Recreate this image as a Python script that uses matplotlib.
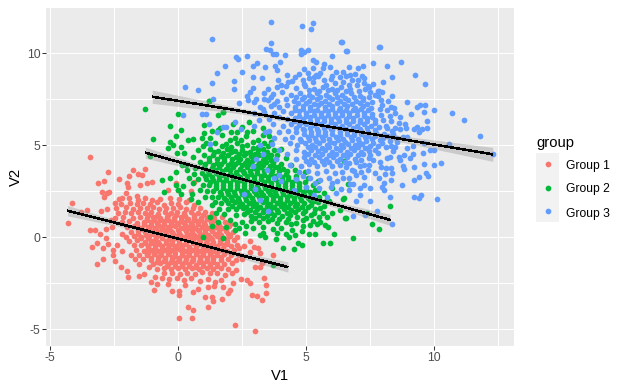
import numpy as np
import matplotlib
matplotlib.use("Agg")
import matplotlib.pyplot as plt

plt.rcParams['font.family'] = ['Liberation Sans', 'DejaVu Sans']
plt.rcParams['axes.unicode_minus'] = False

groups = ["Group 1", "Group 2", "Group 3"]
colors = ["#F8766D", "#00BA38", "#619CFF"]
xticks = [-5, 0, 5, 10]
yticks = [-5, 0, 5, 10]

g1_edge = [-3.47,4.35,-2.73,3.53,-1.79,3.64,-1.29,3.70,-1.91,3.33,-2.30,3.15,-2.89,3.04,-3.12,2.93,-1.56,3.42,-1.43,3.39,
-1.99,2.93,-1.98,2.75,-1.49,2.84,-1.23,2.97,-1.04,3.03,-3.0,2.48,-2.70,2.48,-2.9,2.21,-2.8,2.39,-2.04,2.39,-1.62,2.26,-2.21,2.12,
-4.14,1.85,-3.55,1.50,-2.47,1.85,-2.80,1.52,-3.03,1.45,-3.81,1.38,-4.33,0.76,-3.45,0.40,-3.25,0.40,-3.06,0.16,-2.83,0.43,-2.60,0.58,
-2.83,-0.05,-3.16,-0.33,-3.39,-0.54,-2.93,-0.6,-2.57,-0.69,-2.56,-0.96,-2.93,-1.2,-2.46,-1.27,-3.16,-1.47,-2.26,-1.63,-2.01,-1.81,
-1.95,-2.14,-1.53,-2.10,-1.36,-2.01,-1.52,-1.47,-0.92,-2.14,-1.06,-2.41,-0.82,-2.55,-0.95,-2.86,-0.39,-2.55,-0.23,-2.93,0.04,-2.90,
0.04,-3.13,0.26,-2.59,0.59,-2.99,0.75,-2.81,0.39,-3.80,0.59,-3.97,0.04,-4.40,0.55,-4.40,1.14,-3.80,1.06,-3.26,1.31,-3.26,1.37,-3.48,
1.72,-3.33,1.92,-3.01,2.02,-2.86,2.23,-4.78,3.01,-5.11,2.86,-3.13,3.09,-3.21,3.26,-3.42,3.44,-3.04,3.44,-2.61,3.35,-2.21,2.67,-2.32,
2.80,-2.50,2.43,-2.28,2.13,-2.46,2.99,-1.59,3.19,-1.59,3.71,-0.98,3.26,-1.38,2.78,-0.22,2.57,-0.47,2.96,-0.51,3.13,-0.56,2.80,-0.78,
3.17,-0.83,2.35,-0.6,2.09,-1.96,1.83,-2.05,-2.62,0.95,-2.2,0.2,-2.75,-0.35,-2.4,-0.4,0.6,3.02,-0.1,2.95,0.0,2.6,0.5,2.5,-0.4,2.55]
g1_core = [-2.31,2.09,-1.93,2.14,-1.56,2.05,-1.31,2.12,-1.04,2.03,-0.72,2.1,-0.33,2.14,0.02,2.07,0.41,2.02,
-2.24,1.83,-1.88,1.88,-1.61,1.79,-1.37,1.86,-1.1,1.81,-0.83,1.9,-0.55,1.78,-0.3,1.87,-0.03,1.84,0.29,1.91,0.62,1.77,
-2.42,1.58,-2.06,1.64,-1.79,1.55,-1.5,1.62,-1.24,1.57,-1.0,1.66,-0.74,1.54,-0.48,1.61,-0.21,1.58,0.06,1.65,0.31,1.55,0.57,1.62,0.86,1.57,
-2.34,1.33,-2.08,1.38,-1.86,1.31,-1.58,1.36,-1.3,1.32,-1.06,1.4,-0.79,1.29,-0.54,1.37,-0.28,1.33,-0.04,1.38,0.22,1.3,0.49,1.36,0.76,1.31,1.06,1.37,1.32,1.3,
-2.48,1.08,-2.16,1.12,-1.76,1.06,-1.49,1.13,-1.24,1.05,-0.98,1.11,-0.7,1.03,-0.45,1.1,-0.17,1.07,0.09,1.13,0.36,1.02,0.63,1.09,0.88,1.04,1.15,1.12,1.41,1.03,1.69,1.09,
-2.2,0.83,-1.92,0.87,-1.62,0.79,-1.36,0.86,-1.08,0.82,-0.84,0.78,-0.58,0.88,-0.3,0.83,-0.06,0.77,0.2,0.85,0.48,0.8,0.74,0.88,1.0,0.79,1.27,0.84,1.55,0.78,1.83,0.86,2.02,0.74,
-2.0,0.56,-1.74,0.6,-1.47,0.53,-1.2,0.59,-0.93,0.51,-0.68,0.58,-0.42,0.54,-0.14,0.6,0.12,0.52,0.38,0.57,0.64,0.5,0.92,0.59,1.18,0.53,1.44,0.58,1.7,0.51,1.96,0.6,
-1.86,0.31,-1.57,0.34,-1.3,0.28,-1.02,0.33,-0.76,0.27,-0.52,0.35,-0.24,0.3,0.02,0.26,0.28,0.34,0.54,0.29,0.8,0.32,1.06,0.25,1.33,0.33,1.6,0.27,1.87,0.34,2.15,0.28,
-2.05,0.04,-1.72,0.08,-1.45,0.02,-1.15,0.07,-0.88,0.01,-0.62,0.09,-0.36,0.03,-0.1,0.06,0.17,0.0,0.43,0.08,0.7,0.02,0.96,0.07,1.22,0.01,1.5,0.06,1.76,-0.01,2.03,0.05,2.3,0.0,
-1.93,-0.2,-1.6,-0.16,-1.32,-0.23,-1.05,-0.17,-0.78,-0.25,-0.5,-0.18,-0.24,-0.22,0.03,-0.15,0.3,-0.24,0.56,-0.17,0.83,-0.21,1.1,-0.16,1.36,-0.24,1.62,-0.18,1.9,-0.23,2.17,-0.16,
-1.75,-0.44,-1.47,-0.4,-1.2,-0.48,-0.92,-0.42,-0.64,-0.49,-0.38,-0.41,-0.11,-0.46,0.16,-0.43,0.42,-0.5,0.7,-0.4,0.96,-0.47,1.23,-0.42,1.5,-0.48,1.77,-0.41,2.04,-0.47,2.3,-0.41,
-2.2,-0.72,-1.64,-0.66,-1.33,-0.72,-1.06,-0.67,-0.79,-0.74,-0.52,-0.66,-0.25,-0.71,0.02,-0.65,0.29,-0.73,0.55,-0.68,0.82,-0.74,1.09,-0.67,1.36,-0.72,1.63,-0.66,1.9,-0.73,2.18,-0.69,
-1.85,-0.97,-1.52,-0.93,-1.22,-0.98,-0.94,-0.91,-0.66,-0.97,-0.39,-0.92,-0.12,-0.99,0.15,-0.93,0.42,-0.98,0.69,-0.92,0.96,-0.97,1.22,-0.9,1.5,-0.96,1.77,-0.91,2.06,-0.97,2.35,-0.93,
-1.7,-1.2,-1.38,-1.17,-1.08,-1.23,-0.8,-1.16,-0.53,-1.22,-0.25,-1.18,0.02,-1.24,0.29,-1.17,0.56,-1.22,0.83,-1.16,1.1,-1.23,1.36,-1.18,1.65,-1.21,1.95,-1.17,2.25,-1.24,2.5,-1.15,
-0.98,-1.44,-0.7,-1.41,-0.42,-1.47,-0.15,-1.4,0.13,-1.46,0.4,-1.42,0.67,-1.48,0.95,-1.41,1.22,-1.46,1.5,-1.42,1.8,-1.47,2.1,-1.4,-1.15,-1.62,
-0.85,-1.7,-0.55,-1.66,-0.28,-1.72,0.0,-1.65,0.27,-1.71,0.55,-1.67,0.82,-1.73,1.1,-1.66,1.37,-1.7,1.65,-1.67,1.95,-1.72,2.25,-1.78,
-0.55,-1.95,-0.25,-1.92,0.05,-1.97,0.35,-1.93,0.65,-1.98,0.92,-1.9,1.22,-1.96,1.5,-1.92,-0.62,-2.2,-0.35,-2.28,-0.05,-2.2,0.22,-2.3,0.5,-2.22,0.85,-2.35,1.15,-2.25,1.42,-2.4,1.65,-2.3,1.15,-2.7,1.4,-2.62,1.75,-2.7]
g1_fill = [-1.2,1.2,-0.85,1.18,-0.4,1.22,-0.1,1.24,0.25,1.16,0.6,1.2,0.95,1.22,-1.22,0.94,-0.95,0.96,-0.7,0.92,-0.42,0.97,-0.18,0.95,0.1,0.97,0.35,0.93,0.62,0.96,0.88,0.93,1.13,0.98,1.4,0.92,
-1.6,0.68,-1.33,0.72,-1.05,0.69,-0.8,0.67,-0.55,0.73,-0.27,0.68,0,0.71,0.25,0.67,0.52,0.68,0.78,0.72,1.05,0.66,1.32,0.71,1.58,0.65,-1.43,0.44,-1.16,0.46,-0.88,0.4,-0.6,0.46,-0.33,0.42,-0.02,0.41,0.25,0.45,0.5,0.43,0.78,0.42,1.05,0.41,1.3,0.46,1.58,0.4,1.85,0.47,
-1.58,0.19,-1.28,0.15,-1.0,0.2,-0.72,0.14,-0.47,0.18,-0.22,0.16,0.08,0.13,0.34,0.18,0.6,0.15,0.85,0.19,1.15,0.14,1.42,0.19,1.68,0.13,1.95,0.17,-1.45,-0.06,-1.18,-0.05,-0.92,-0.12,-0.63,-0.06,-0.34,-0.09,-0.08,-0.04,0.28,-0.1,0.54,-0.05,0.82,-0.1,1.06,-0.04,1.33,-0.1,1.62,-0.05,1.89,-0.08,
-1.3,-0.33,-1.05,-0.3,-0.76,-0.36,-0.5,-0.31,-0.24,-0.35,0.02,-0.29,0.28,-0.36,0.56,-0.31,0.82,-0.35,1.08,-0.3,1.36,-0.36,1.64,-0.3,1.9,-0.35,-1.18,-0.6,-0.92,-0.56,-0.65,-0.62,-0.39,-0.55,-0.12,-0.6,0.15,-0.56,0.42,-0.61,0.7,-0.54,0.96,-0.6,1.22,-0.55,1.5,-0.6,1.76,-0.55,
-1.2,-0.84,-0.92,-0.8,-0.66,-0.85,-0.38,-0.8,-0.12,-0.85,0.15,-0.8,0.42,-0.85,0.69,-0.79,0.95,-0.85,1.22,-0.8,1.5,-0.84,1.78,-0.8,-1.08,-1.1,-0.8,-1.05,-0.52,-1.1,-0.25,-1.05,0.02,-1.1,0.29,-1.06,0.56,-1.1,0.83,-1.05,1.1,-1.1,1.37,-1.05,1.65,-1.09,
-0.85,-1.32,-0.55,-1.3,-0.28,-1.34,0.0,-1.3,0.27,-1.33,0.55,-1.3,0.82,-1.35,1.1,-1.3,1.37,-1.34,-0.45,-1.57,-0.12,-1.55,0.13,-1.58,0.42,-1.55,0.7,-1.6,0.97,-1.54,1.25,-1.58,1.52,-1.56]

g2_edge = [-1.29,7.0,1.21,7.40,0,6.68,1.56,6.64,1.76,6.79,-0.31,6.06,0.12,5.86,1.0,6.1,1.30,5.79,-0.98,5.32,-0.34,5.19,-0.08,5.52,0.39,5.28,
0.58,5.37,0.91,5.41,-0.2,5.01,0.09,4.92,-0.39,4.83,-0.04,4.56,0.23,4.61,1.08,5.1,-1.11,4.41,0.58,4.38,0.13,3.92,0.32,3.65,-0.11,3.56,-0.33,3.25,
-0.63,3.14,-0.11,2.87,-0.55,2.49,0.19,2.78,0.58,2.98,-0.03,2.60,0.12,2.35,0.52,2.38,0.51,2.08,0.75,1.9,1.3,1.77,1.24,1.12,1.46,1.3,1.53,0.84,1.3,0.61,
0.97,0.0,1.76,-0.06,1.87,0.54,2.21,0.75,2.62,0.26,3.19,0.12,3.38,0.03,3.8,-0.1,4.1,-0.57,4.53,-0.61,4.69,-0.33,4.82,-0.39,4.33,0.03,4.82,0.36,5.12,0.16,
5.35,0.17,5.66,-0.33,5.94,-0.33,6.83,-0.06,6.08,0.16,5.86,0.57,5.73,0.66,6.55,1.06,5.99,1.3,6.44,2.11,6.64,2.89,5.99,2.69,6.31,1.51,5.40,0.75,5.14,0.66,
7.38,1.35,3.71,-1.51,8.27,1.7,7.57,0.72,7.84,0.45,6.51,1.05,6.65,2.9,6.47,2.14,6.47,4.16,1.75,6.8,1.2,7.4]
g2_core = [1.62,5.95,2.05,5.75,2.5,6.02,2.9,5.8,3.3,5.55,1.7,5.55,2.2,5.4,2.65,5.5,3.1,5.3,3.6,5.2,
1.45,5.12,1.85,5.05,2.28,5.1,2.7,5.0,3.1,4.9,3.5,4.95,4.0,4.8,1.25,4.78,1.55,4.7,1.9,4.82,2.2,4.68,2.5,4.76,2.8,4.65,3.1,4.72,3.45,4.62,3.85,4.5,
1.0,4.45,1.35,4.5,1.65,4.42,1.95,4.48,2.25,4.38,2.55,4.47,2.85,4.4,3.15,4.46,3.45,4.36,3.8,4.25,4.2,4.3,
0.85,4.12,1.2,4.15,1.5,4.06,1.78,4.13,2.05,4.04,2.33,4.12,2.6,4.06,2.88,4.14,3.15,4.05,3.42,4.11,3.7,4.02,4.0,3.98,4.4,3.95,
0.65,3.78,1.0,3.82,1.3,3.75,1.58,3.83,1.85,3.74,2.12,3.8,2.4,3.73,2.67,3.81,2.94,3.75,3.22,3.82,3.5,3.74,3.78,3.8,4.08,3.7,4.55,3.65,4.95,3.55,
0.6,3.45,0.92,3.48,1.2,3.42,1.47,3.5,1.74,3.41,2.01,3.47,2.28,3.4,2.55,3.48,2.82,3.42,3.09,3.49,3.36,3.41,3.63,3.46,3.9,3.4,4.2,3.45,4.6,3.35,5.05,3.25,5.45,3.05,
0.78,3.15,1.07,3.18,1.34,3.11,1.6,3.17,1.87,3.09,2.14,3.16,2.41,3.1,2.68,3.18,2.95,3.12,3.22,3.17,3.49,3.09,3.76,3.15,4.03,3.09,4.3,3.16,4.6,3.1,4.95,3.0,5.25,2.85,
0.95,2.86,1.2,2.83,1.47,2.79,1.74,2.85,2.01,2.78,2.28,2.84,2.55,2.77,2.82,2.85,3.09,2.8,3.36,2.86,3.63,2.78,3.9,2.84,4.17,2.77,4.44,2.85,4.72,2.8,5.0,2.72,5.35,2.6,5.7,2.4,
1.1,2.5,1.35,2.54,1.62,2.47,1.89,2.53,2.16,2.46,2.43,2.52,2.7,2.47,2.97,2.54,3.24,2.46,3.51,2.52,3.78,2.47,4.05,2.53,4.32,2.46,4.59,2.52,4.86,2.46,5.15,2.44,5.5,2.2,
1.3,2.2,1.53,2.22,1.8,2.15,2.07,2.2,2.34,2.14,2.61,2.21,2.88,2.15,3.15,2.22,3.42,2.14,3.69,2.2,3.96,2.13,4.23,2.21,4.5,2.15,4.77,2.2,5.05,2.12,5.3,2.0,5.75,1.95,
1.65,1.88,1.95,1.85,2.22,1.9,2.49,1.83,2.76,1.89,3.03,1.82,3.3,1.9,3.57,1.84,3.84,1.89,4.11,1.82,4.38,1.88,4.65,1.83,4.92,1.88,5.2,1.75,5.55,1.62,
1.95,1.55,2.25,1.52,2.52,1.58,2.79,1.5,3.06,1.56,3.33,1.51,3.6,1.57,3.87,1.5,4.14,1.55,4.41,1.49,4.68,1.56,4.95,1.45,5.3,1.35,
2.25,1.2,2.55,1.25,2.85,1.18,3.15,1.24,3.45,1.16,3.75,1.22,4.05,1.15,4.35,1.2,4.65,1.12,5.0,1.05,5.5,1.1,
2.5,0.85,2.85,0.9,3.15,0.82,3.5,0.88,3.85,0.8,4.2,0.86,4.6,0.78,2.9,0.5,3.3,0.55,3.7,0.45,4.0,0.5,4.45,0.42]
g2_fill = [2.3,5.75,2.7,5.7,3.5,5.75,2.0,5.3,2.45,5.28,2.9,5.2,3.35,5.15,1.7,4.95,2.05,4.93,2.48,4.95,2.9,4.85,3.3,4.8,3.75,4.75,1.4,4.62,1.75,4.6,2.05,4.62,2.35,4.55,2.65,4.58,2.98,4.55,3.3,4.5,3.6,4.5,
1.2,4.3,1.5,4.27,1.8,4.3,2.1,4.24,2.4,4.28,2.7,4.23,3.0,4.26,3.3,4.22,3.6,4.2,1.05,3.97,1.35,3.95,1.65,3.98,1.92,3.93,2.2,3.96,2.47,3.91,2.75,3.97,3.02,3.9,3.3,3.95,3.58,3.9,3.88,3.85,
1.15,3.6,1.45,3.65,1.72,3.58,2.0,3.64,2.26,3.57,2.53,3.63,2.8,3.58,3.08,3.64,3.36,3.58,3.65,3.62,3.95,3.58,4.25,3.6,1.05,3.32,1.33,3.3,1.6,3.34,1.88,3.28,2.14,3.33,2.42,3.26,2.68,3.33,2.95,3.28,3.22,3.33,3.5,3.26,3.76,3.32,4.03,3.26,4.3,3.3,4.6,3.23,
1.22,3.0,1.48,2.97,1.74,3.01,2.0,2.95,2.28,3.0,2.55,2.94,2.82,3.0,3.09,2.96,3.36,3.01,3.63,2.94,3.9,3.0,4.17,2.94,4.45,3.0,4.72,2.96,1.48,2.66,1.76,2.7,2.03,2.63,2.3,2.68,2.56,2.62,2.83,2.68,3.1,2.64,3.37,2.7,3.64,2.63,3.91,2.68,4.18,2.62,4.45,2.68,4.72,2.62,5.0,2.58,
1.66,2.34,1.94,2.38,2.2,2.31,2.47,2.36,2.75,2.3,3.02,2.37,3.29,2.3,3.56,2.36,3.83,2.3,4.1,2.37,4.37,2.3,4.64,2.36,4.92,2.3,1.85,2.03,2.1,2.05,2.36,1.99,2.63,2.04,2.9,1.98,3.17,2.05,3.44,1.98,3.71,2.04,3.98,1.98,4.25,2.05,4.52,1.99,4.79,2.04,
2.08,1.7,2.38,1.73,2.65,1.67,2.92,1.72,3.2,1.66,3.47,1.73,3.74,1.66,4.0,1.72,4.27,1.66,4.55,1.72,4.82,1.66,2.7,1.4,3.0,1.36,3.3,1.4,3.6,1.35,3.9,1.38,4.25,1.34,4.55,1.36,3.0,1.03,3.3,1.05,3.65,1.0,3.95,1.02,4.3,1.0]
g2_rim = [5.2,2.3,5.45,2.55,5.15,2.02,5.45,1.9,5.7,1.7,5.9,1.95,5.05,1.65,5.35,1.52,5.65,1.35,5.8,1.1,5.2,1.2,4.85,1.3,4.85,0.95,5.25,0.9,5.55,0.85,4.4,0.7,4.85,0.62,3.3,0.22,3.85,0.22,4.2,0.2,4.55,0.15,
2.65,0.6,2.35,0.5,2.0,0.95,2.2,0.38,1.8,1.25,1.6,1.55,1.45,1.9,1.05,2.2,0.85,2.55,0.4,3.2,0.3,3.95,0.75,4.75,0.95,4.95,1.25,5.4,1.0,5.65,1.55,5.85,2.15,6.15,2.75,6.25,3.3,5.95,3.55,5.5]

g3_edge = [3.63,11.69,4.81,11.47,5.27,11.63,5.2,11.31,1.33,10.76,3.63,10.55,6.37,10.6,6.56,10.11,7.83,10.33,3.43,10.24,3.56,10.2,3.69,9.97,3.82,9.95,
4.78,10.18,4.78,9.95,5.08,10.17,4.91,10.06,2.25,9.79,2.34,9.7,2.7,9.84,4.18,9.89,6.02,9.84,5.24,9.62,5.39,9.51,3.97,9.51,3.09,9.48,2.93,9.3,3.4,9.24,
3.79,9.3,3.84,9.08,1.84,9.3,2.5,8.97,1.52,8.92,2.93,8.7,3.28,8.64,4.26,8.81,2.19,8.48,1.33,8.37,0.24,8.16,0.78,7.99,2.19,8.05,1.37,7.54,2.9,8.1,3.49,8.05,
2.8,7.88,2.67,7.7,2.71,7.47,3.35,7.52,2.38,7.29,2.97,7.34,0.2,6.63,0.91,6.69,1.09,6.69,1.2,6.14,1.76,6.02,1.86,6.02,1.49,5.75,1.24,5.06,2.21,6.29,2.45,5.87,
7.62,9.46,7.23,9.31,7.03,9.19,6.68,9.24,5.94,9.24,5.7,9.4,5.27,9.19,4.92,9.15,5.08,8.92,5.38,8.83,6.42,8.97,6.55,8.74,7.16,8.79,7.27,8.68,6.99,8.26,7.42,8.21,
7.81,7.97,5.64,9.19,7.86,10.33,6.57,10.11,6.38,10.6,8.68,9.51,8.13,9.29,9.26,8.81,8.33,8.7,8.01,8.43,9.65,8.32,7.43,8.19,8.36,7.7,8.92,7.34,9.45,7.18,9.65,7.18,
9.34,7.07,9.97,6.9,9.61,6.83,9.07,6.69,8.44,7.01,10.68,6.74,11.14,6.36,9.73,6.31,11.8,5.49,12.28,4.51,10.59,5.07,10.0,4.73,9.84,4.73,9.54,4.59,9.58,5.11,10.24,4.02,
10.0,3.92,9.58,3.97,9.22,3.81,9.69,3.48,9.74,3.32,9.38,3.28,9.22,3.1,8.75,2.83,10.12,2.07,9.46,2.28,9.22,2.18,9.38,2.16,8.25,2.18,7.47,1.96,6.92,1.96,7.11,2.28,
7.74,1.42,8.34,0.71,6.84,1.14,7.3,1.2,7.47,2.66,7.08,2.66,7.26,2.83,8.05,2.94,7.95,2.72,8.05,2.56,8.29,3.1,7.82,3.21,6.67,2.56,6.84,2.88,7.27,3.28,6.93,3.37,
7.39,3.64,6.8,3.64,8.29,3.75,8.1,3.75,8.34,3.48,8.08,3.43,7.69,3.48,8.77,3.88,8.83,3.7,7.27,3.93,6.68,4.02,8.6,4.39,8.66,4.2,9.05,4.3,9.16,4.53,8.83,4.48,8.27,4.39,
8.14,4.3,7.88,4.11,7.62,4.2,7.43,4.3,7.14,4.2,8.6,6.2,8.86,6.14,8.9,5.96,9.22,5.91,9.31,5.98,9.51,5.87,9.71,5.93,9.38,5.71,8.66,5.87,8.79,5.47,8.92,5.47,9.18,4.98,
8.92,4.84,8.47,4.93,8.4,4.71,8.14,6.92,7.95,7.19,8.18,7.41,7.93,7.45,7.78,7.67,7.82,7.97,7.95,7.92]
g3_core = [4.7,8.9,5.1,8.65,5.55,8.95,6.0,8.75,6.9,8.9,4.45,8.5,4.85,8.55,5.25,8.42,5.7,8.55,6.1,8.4,6.45,8.45,6.8,8.55,7.25,8.4,
3.85,8.15,4.2,8.2,4.6,8.1,4.95,8.22,5.3,8.08,5.65,8.18,6.0,8.05,6.35,8.15,6.7,8.07,7.05,7.95,7.5,7.9,
3.35,7.85,3.7,7.78,4.05,7.88,4.4,7.76,4.75,7.85,5.1,7.75,5.4,7.86,5.75,7.74,6.1,7.84,6.4,7.72,6.75,7.82,7.1,7.7,7.45,7.65,
3.05,7.5,3.5,7.46,3.85,7.42,4.2,7.52,4.5,7.4,4.82,7.5,5.12,7.41,5.42,7.53,5.72,7.42,6.02,7.5,6.32,7.39,6.62,7.48,6.92,7.4,7.22,7.47,7.55,7.35,
3.2,7.1,3.6,7.15,3.95,7.08,4.25,7.17,4.55,7.06,4.85,7.16,5.15,7.07,5.45,7.18,5.72,7.06,6.0,7.15,6.3,7.05,6.6,7.14,6.9,7.05,7.2,7.13,7.52,7.05,7.88,7.0,
3.35,6.8,3.75,6.75,4.1,6.85,4.4,6.76,4.7,6.84,5.0,6.74,5.28,6.84,5.56,6.75,5.84,6.85,6.12,6.74,6.4,6.83,6.68,6.75,6.96,6.84,7.24,6.76,7.56,6.7,7.9,6.65,8.25,6.6,
3.55,6.45,3.95,6.52,4.25,6.42,4.55,6.5,4.85,6.41,5.13,6.52,5.41,6.42,5.69,6.5,5.97,6.41,6.25,6.5,6.53,6.42,6.81,6.51,7.09,6.4,7.37,6.48,7.68,6.38,8.0,6.35,8.32,6.3,
3.7,6.14,4.1,6.07,4.4,6.16,4.7,6.08,5.0,6.17,5.28,6.08,5.56,6.15,5.84,6.07,6.12,6.16,6.4,6.07,6.68,6.15,6.96,6.06,7.24,6.14,7.52,6.05,7.82,6.0,8.15,5.95,8.45,5.95,
3.55,5.78,3.95,5.7,4.3,5.8,4.6,5.72,4.9,5.82,5.18,5.73,5.46,5.8,5.74,5.72,6.02,5.81,6.3,5.72,6.58,5.8,6.86,5.71,7.14,5.79,7.42,5.7,7.72,5.68,8.05,5.62,8.4,5.6,
3.75,5.42,4.15,5.36,4.45,5.46,4.75,5.37,5.05,5.47,5.33,5.38,5.61,5.45,5.89,5.36,6.17,5.46,6.45,5.37,6.73,5.45,7.01,5.36,7.29,5.44,7.57,5.35,7.87,5.3,8.25,5.25,8.55,5.2,
3.2,5.0,3.65,5.07,4.35,5.1,4.65,5.02,4.95,5.11,5.23,5.02,5.51,5.1,5.79,5.01,6.07,5.1,6.35,5.01,6.63,5.09,6.91,5.0,7.19,5.08,7.5,4.98,7.8,4.95,8.1,4.9,
3.95,4.72,4.6,4.75,4.9,4.66,5.18,4.76,5.46,4.67,5.74,4.75,6.02,4.66,6.3,4.74,6.58,4.66,6.86,4.74,7.14,4.65,7.45,4.68,7.78,4.6,
3.8,4.25,4.6,4.25,4.9,4.35,5.2,4.27,5.48,4.35,5.76,4.26,6.04,4.34,6.32,4.26,6.6,4.34,6.9,4.26,7.2,4.55,
4.35,3.95,4.8,3.9,5.1,3.98,5.4,3.88,5.7,3.96,6.0,3.87,6.3,3.95,6.55,3.85,
4.7,3.55,5.05,3.6,5.4,3.5,5.75,3.58,6.1,3.5,6.4,3.55,4.6,3.15,5.15,3.2,5.55,3.1,5.9,3.2,6.2,3.05,6.45,3.2,
4.0,3.05,5.0,2.75,5.5,2.7,5.95,2.75,6.35,2.65,5.3,2.3,5.8,2.2,6.15,2.4,4.5,2.6,3.5,1.45,3.2,2.05,2.55,2.35,3.0,2.65,2.9,3.9,3.05,4.25]
g3_fill = [4.6,7.62,4.9,7.65,5.22,7.6,5.55,7.65,5.88,7.6,6.2,7.63,6.52,7.58,6.85,7.62,7.2,7.58,4.68,7.28,4.98,7.3,5.28,7.25,5.58,7.3,5.88,7.26,6.18,7.28,6.48,7.24,6.78,7.26,7.08,7.28,7.38,7.22,
4.55,6.93,4.85,6.96,5.15,6.9,5.42,6.94,5.72,6.9,6.0,6.96,6.28,6.9,6.56,6.94,6.84,6.9,7.12,6.95,7.42,6.9,4.7,6.62,5.0,6.6,5.28,6.65,5.56,6.59,5.84,6.65,6.12,6.6,6.4,6.65,6.68,6.58,6.96,6.64,7.24,6.6,7.55,6.55,
4.55,6.3,4.85,6.25,5.14,6.3,5.42,6.26,5.7,6.32,5.98,6.26,6.26,6.3,6.54,6.25,6.82,6.32,7.1,6.26,7.38,6.3,7.68,6.2,4.6,5.95,4.85,5.9,5.14,5.94,5.42,5.88,5.7,5.94,5.98,5.88,6.26,5.94,6.54,5.89,6.82,5.94,7.1,5.88,7.38,5.92,7.68,5.85,
4.9,5.62,5.18,5.56,5.46,5.62,5.74,5.55,6.02,5.62,6.3,5.55,6.58,5.62,6.86,5.55,7.14,5.62,7.42,5.53,7.7,5.5,4.8,5.22,5.1,5.28,5.38,5.22,5.66,5.28,5.94,5.2,6.22,5.27,6.5,5.2,6.78,5.27,7.06,5.2,7.34,5.25,7.62,5.15,
5.05,4.9,5.33,4.93,5.61,4.88,5.89,4.92,6.17,4.87,6.45,4.92,6.73,4.87,7.01,4.9,7.3,4.85,5.05,4.55,5.33,4.5,5.6,4.55,5.88,4.5,6.16,4.55,6.44,4.5,6.72,4.55,7.0,4.47,5.0,4.15,5.3,4.1,5.6,4.15,5.9,4.08,6.2,4.14,6.5,4.1,
4.9,8.35,5.3,8.72,5.75,8.3,6.3,8.7,6.65,8.3,7.0,8.55,5.1,8.02,5.5,7.95,5.85,7.98,6.2,7.98,6.55,7.95]
g3_rim = [4.3,8.42,4.55,8.72,3.9,8.55,4.0,8.3,5.45,8.75,5.95,8.6,6.15,9.0,6.7,8.8,7.6,8.35,7.7,7.75,7.3,8.05,8.3,7.1,8.45,6.75,8.65,6.55,8.1,6.05,8.35,5.8,8.0,5.4,8.2,5.5,8.5,5.4,7.95,5.1,8.3,4.95,
7.7,4.75,7.5,4.5,7.35,4.85,7.9,3.85,7.45,3.95,7.1,3.9,6.85,3.6,6.95,4.1,7.15,3.55,6.65,3.2,6.7,2.9,6.0,2.95,5.35,2.95,4.85,3.35,3.45,3.65,3.95,3.4,3.75,3.2,4.25,4.55,3.3,4.55,3.4,5.75,2.95,6.05,3.15,6.4,2.95,6.75,3.3,6.95,3.75,7.25,3.6,7.65]

line_x = [[-4.33, -2.2, 0.0, 2.1, 4.28], [-1.29, 1.1, 3.5, 5.9, 8.27], [-1.02, 2.3, 5.6, 8.9, 12.28]]
line_y = [[1.45, 0.70, -0.07, -0.85, -1.61], [4.60, 3.68, 2.78, 1.87, 0.95], [7.64, 6.9, 6.08, 5.3, 4.51]]
se_half = [[0.28, 0.14, 0.07, 0.14, 0.28], [0.30, 0.15, 0.08, 0.15, 0.30], [0.36, 0.16, 0.09, 0.18, 0.38]]

W, H = 625, 391
fig = plt.figure(figsize=(W / 100, H / 100), dpi=100, facecolor="white")
L, R, T, B = 46, 514, 8, 346
ax = fig.add_axes([L / W, 1 - B / H, (R - L) / W, (B - T) / H], facecolor="#EBEBEB")

series = [g1_core + g1_fill + g1_edge, g2_core + g2_fill + g2_rim + g2_edge, g3_core + g3_fill + g3_rim + g3_edge]
for c, vals in zip(colors, series):
    pts = np.array(vals).reshape(-1, 2)
    ax.scatter(pts[:, 0], pts[:, 1], s=17, c=c, linewidths=0, zorder=3)

for lx, ly, se in zip(line_x, line_y, se_half):
    lx, ly, se = map(np.array, (lx, ly, se))
    xs = np.linspace(lx[0], lx[-1], 60)
    ys = np.interp(xs, lx, ly)
    hw = np.interp(xs, lx, se)
    ax.fill_between(xs, ys - hw, ys + hw, color="#999999", alpha=0.4, linewidth=0, zorder=4)
    ax.plot(lx, ly, color="black", lw=1.1, zorder=5, antialiased=False, solid_capstyle="butt")

ax.set_xlim(-5.17, 13.11)
ax.set_ylim(-5.9, 12.46)
ax.set_xticks(xticks)
ax.set_yticks(yticks)
ax.set_xticks([-2.5, 2.5, 7.5, 12.5], minor=True)
ax.set_yticks([-2.5, 2.5, 7.5], minor=True)
ax.grid(True, which="both", color="white", lw=0.6, antialiased=False, zorder=1)
ax.set_axisbelow(True)
for s in ax.spines.values():
    s.set_visible(False)
ax.tick_params(which="major", length=2.6, width=0.75, color="#333333", labelcolor="#4D4D4D", labelsize=8.7, pad=1.5)
ax.tick_params(which="minor", length=0)
ax.set_xlabel("V1", fontsize=10.6, labelpad=4)
ax.set_ylabel("V2", fontsize=10.6, labelpad=3)

lax = fig.add_axes([536 / W, 1 - 222 / H, 23 / W, 69 / H])
lax.set_xlim(0, 1)
lax.set_ylim(3, 0)
lax.axis("off")
lax.add_patch(plt.Rectangle((0, 0), 1, 3, color="#F2F2F2", lw=0))
for i, (g, c) in enumerate(zip(groups, colors)):
    lax.scatter([0.5], [i + 0.5], s=17, c=c, linewidths=0)
    fig.text(566 / W, 1 - (165.5 + i * 24) / H, g, fontsize=8.7, va="center", ha="left", color="black")
fig.text(536 / W, 1 - 143 / H, "group", fontsize=10.6, va="center", ha="left", color="black")

fig.savefig("out.png", dpi=100)
